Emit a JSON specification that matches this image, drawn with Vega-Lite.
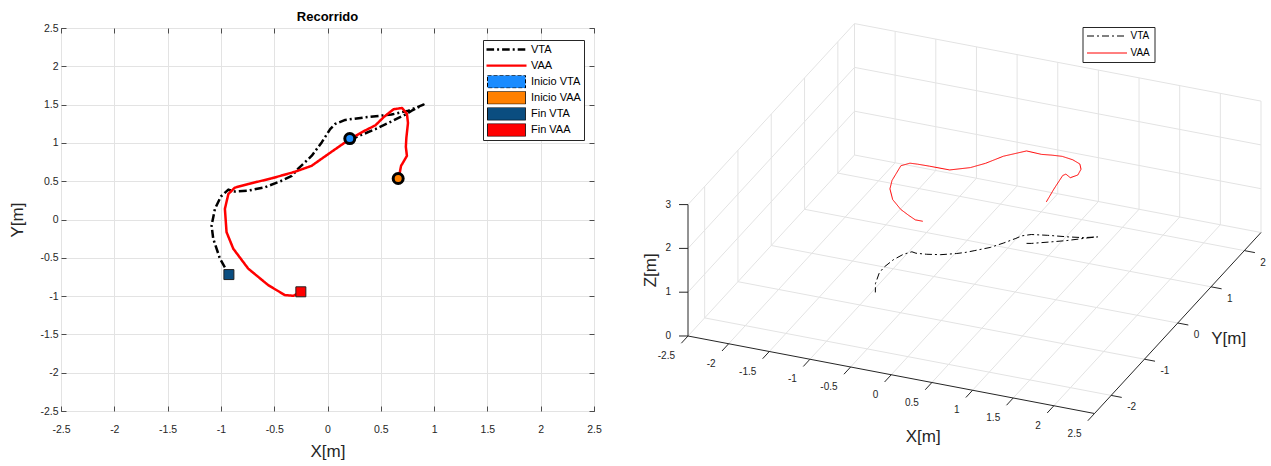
{
  "$schema": "https://vega.github.io/schema/vega-lite/v6.json",
  "autosize": {"type": "pad"},
  "padding": {"left": 8, "top": 10, "right": 0, "bottom": 0},
  "bounds": "flush",
  "spacing": 44,
  "background": "#ffffff",
  "config": {
    "font": "Liberation Sans",
    "text": {"font": "Liberation Sans"},
    "title": {"font": "Liberation Sans"},
    "axis": {"labelFont": "Liberation Sans", "titleFont": "Liberation Sans"},
    "legend": {"labelFont": "Liberation Sans"}
  },
  "resolve": {
    "scale": {"x": "independent", "y": "independent", "stroke": "independent", "strokeDash": "independent", "fill": "independent"},
    "legend": {"stroke": "independent", "strokeDash": "independent", "fill": "independent"}
  },
  "datasets": {
    "tray": [
      {"s": "VTA", "i": 0, "x": 0.21, "y": 1.05, "z": 0.14},
      {"s": "VTA", "i": 1, "x": 0.26, "y": 1.07, "z": 0.14},
      {"s": "VTA", "i": 2, "x": 0.45, "y": 1.18, "z": 0.15},
      {"s": "VTA", "i": 3, "x": 0.6, "y": 1.28, "z": 0.15},
      {"s": "VTA", "i": 4, "x": 0.73, "y": 1.37, "z": 0.16},
      {"s": "VTA", "i": 5, "x": 0.79, "y": 1.42, "z": 0.16},
      {"s": "VTA", "i": 6, "x": 0.9, "y": 1.5, "z": 0.16},
      {"s": "VTA", "i": 7, "x": 0.76, "y": 1.42, "z": 0.16},
      {"s": "VTA", "i": 8, "x": 0.6, "y": 1.37, "z": 0.16},
      {"s": "VTA", "i": 9, "x": 0.354, "y": 1.334, "z": 0.14},
      {"s": "VTA", "i": 10, "x": 0.166, "y": 1.3, "z": 0.12},
      {"s": "VTA", "i": 11, "x": 0.072, "y": 1.247, "z": 0.1},
      {"s": "VTA", "i": 12, "x": 0.025, "y": 1.18, "z": 0.08},
      {"s": "VTA", "i": 13, "x": -0.053, "y": 1.01, "z": 0.09},
      {"s": "VTA", "i": 14, "x": -0.147, "y": 0.833, "z": 0.1},
      {"s": "VTA", "i": 15, "x": -0.27, "y": 0.67, "z": 0.12},
      {"s": "VTA", "i": 16, "x": -0.335, "y": 0.57, "z": 0.14},
      {"s": "VTA", "i": 17, "x": -0.431, "y": 0.506, "z": 0.13},
      {"s": "VTA", "i": 18, "x": -0.5875, "y": 0.42, "z": 0.12},
      {"s": "VTA", "i": 19, "x": -0.744, "y": 0.377, "z": 0.11},
      {"s": "VTA", "i": 20, "x": -0.869, "y": 0.364, "z": 0.1},
      {"s": "VTA", "i": 21, "x": -0.93, "y": 0.39, "z": 0.09},
      {"s": "VTA", "i": 22, "x": -1.0, "y": 0.3, "z": 0.08},
      {"s": "VTA", "i": 23, "x": -1.056, "y": 0.139, "z": 0.07},
      {"s": "VTA", "i": 24, "x": -1.0875, "y": -0.078, "z": 0.06},
      {"s": "VTA", "i": 25, "x": -1.072, "y": -0.251, "z": 0.07},
      {"s": "VTA", "i": 26, "x": -1.009, "y": -0.511, "z": 0.08},
      {"s": "VTA", "i": 27, "x": -0.925, "y": -0.719, "z": 0.08},
      {"s": "VAA", "i": 0, "x": 0.667, "y": 0.53, "z": 1.68},
      {"s": "VAA", "i": 1, "x": 0.69, "y": 0.7, "z": 1.84},
      {"s": "VAA", "i": 2, "x": 0.745, "y": 0.83, "z": 2.06},
      {"s": "VAA", "i": 3, "x": 0.735, "y": 0.95, "z": 1.99},
      {"s": "VAA", "i": 4, "x": 0.74, "y": 1.07, "z": 1.81},
      {"s": "VAA", "i": 5, "x": 0.755, "y": 1.26, "z": 1.72},
      {"s": "VAA", "i": 6, "x": 0.745, "y": 1.38, "z": 1.75},
      {"s": "VAA", "i": 7, "x": 0.7, "y": 1.455, "z": 1.79},
      {"s": "VAA", "i": 8, "x": 0.62, "y": 1.44, "z": 1.87},
      {"s": "VAA", "i": 9, "x": 0.53, "y": 1.34, "z": 2.0},
      {"s": "VAA", "i": 10, "x": 0.45, "y": 1.23, "z": 2.09},
      {"s": "VAA", "i": 11, "x": 0.35, "y": 1.16, "z": 2.13},
      {"s": "VAA", "i": 12, "x": 0.21, "y": 1.05, "z": 2.25},
      {"s": "VAA", "i": 13, "x": 0.006, "y": 0.853, "z": 2.22},
      {"s": "VAA", "i": 14, "x": -0.15, "y": 0.7, "z": 2.13},
      {"s": "VAA", "i": 15, "x": -0.306, "y": 0.623, "z": 2.04},
      {"s": "VAA", "i": 16, "x": -0.525, "y": 0.537, "z": 1.98},
      {"s": "VAA", "i": 17, "x": -0.744, "y": 0.463, "z": 2.05},
      {"s": "VAA", "i": 18, "x": -0.869, "y": 0.416, "z": 2.09},
      {"s": "VAA", "i": 19, "x": -0.93, "y": 0.333, "z": 2.16},
      {"s": "VAA", "i": 20, "x": -0.9625, "y": 0.139, "z": 2.25},
      {"s": "VAA", "i": 21, "x": -0.947, "y": -0.165, "z": 2.17},
      {"s": "VAA", "i": 22, "x": -0.884, "y": -0.381, "z": 2.18},
      {"s": "VAA", "i": 23, "x": -0.744, "y": -0.641, "z": 2.2},
      {"s": "VAA", "i": 24, "x": -0.556, "y": -0.857, "z": 2.22},
      {"s": "VAA", "i": 25, "x": -0.4, "y": -0.987, "z": 2.24},
      {"s": "VAA", "i": 26, "x": -0.32, "y": -0.996, "z": 2.18},
      {"s": "VAA", "i": 27, "x": -0.25, "y": -0.944, "z": 2.13}
    ],
    "marcas": [
      {"m": "Inicio VTA", "t": "ini", "x": 0.209, "y": 1.056},
      {"m": "Inicio VAA", "t": "ini", "x": 0.663, "y": 0.535},
      {"m": "Fin VTA", "t": "fin", "x": -0.925, "y": -0.719},
      {"m": "Fin VAA", "t": "fin", "x": -0.25, "y": -0.944}
    ],
    "grid3d": [
      {"x": -2.5, "y": -2.5, "z": 0, "xe": -2.5, "ye": 2.5, "ze": 0},
      {"x": -2, "y": -2.5, "z": 0, "xe": -2, "ye": 2.5, "ze": 0},
      {"x": -1.5, "y": -2.5, "z": 0, "xe": -1.5, "ye": 2.5, "ze": 0},
      {"x": -1, "y": -2.5, "z": 0, "xe": -1, "ye": 2.5, "ze": 0},
      {"x": -0.5, "y": -2.5, "z": 0, "xe": -0.5, "ye": 2.5, "ze": 0},
      {"x": 0, "y": -2.5, "z": 0, "xe": 0, "ye": 2.5, "ze": 0},
      {"x": 0.5, "y": -2.5, "z": 0, "xe": 0.5, "ye": 2.5, "ze": 0},
      {"x": 1, "y": -2.5, "z": 0, "xe": 1, "ye": 2.5, "ze": 0},
      {"x": 1.5, "y": -2.5, "z": 0, "xe": 1.5, "ye": 2.5, "ze": 0},
      {"x": 2, "y": -2.5, "z": 0, "xe": 2, "ye": 2.5, "ze": 0},
      {"x": -2.5, "y": -2, "z": 0, "xe": 2.5, "ye": -2, "ze": 0},
      {"x": -2.5, "y": -1, "z": 0, "xe": 2.5, "ye": -1, "ze": 0},
      {"x": -2.5, "y": 0, "z": 0, "xe": 2.5, "ye": 0, "ze": 0},
      {"x": -2.5, "y": 1, "z": 0, "xe": 2.5, "ye": 1, "ze": 0},
      {"x": -2.5, "y": 2, "z": 0, "xe": 2.5, "ye": 2, "ze": 0},
      {"x": -2.5, "y": 2.5, "z": 0, "xe": 2.5, "ye": 2.5, "ze": 0},
      {"x": -2.5, "y": -2, "z": 0, "xe": -2.5, "ye": -2, "ze": 3},
      {"x": -2.5, "y": -1, "z": 0, "xe": -2.5, "ye": -1, "ze": 3},
      {"x": -2.5, "y": 0, "z": 0, "xe": -2.5, "ye": 0, "ze": 3},
      {"x": -2.5, "y": 1, "z": 0, "xe": -2.5, "ye": 1, "ze": 3},
      {"x": -2.5, "y": 2, "z": 0, "xe": -2.5, "ye": 2, "ze": 3},
      {"x": -2.5, "y": 2.5, "z": 0, "xe": -2.5, "ye": 2.5, "ze": 3},
      {"x": -2.5, "y": -2.5, "z": 1, "xe": -2.5, "ye": 2.5, "ze": 1},
      {"x": -2.5, "y": -2.5, "z": 2, "xe": -2.5, "ye": 2.5, "ze": 2},
      {"x": -2.5, "y": -2.5, "z": 3, "xe": -2.5, "ye": 2.5, "ze": 3},
      {"x": -2, "y": 2.5, "z": 0, "xe": -2, "ye": 2.5, "ze": 3},
      {"x": -1.5, "y": 2.5, "z": 0, "xe": -1.5, "ye": 2.5, "ze": 3},
      {"x": -1, "y": 2.5, "z": 0, "xe": -1, "ye": 2.5, "ze": 3},
      {"x": -0.5, "y": 2.5, "z": 0, "xe": -0.5, "ye": 2.5, "ze": 3},
      {"x": 0, "y": 2.5, "z": 0, "xe": 0, "ye": 2.5, "ze": 3},
      {"x": 0.5, "y": 2.5, "z": 0, "xe": 0.5, "ye": 2.5, "ze": 3},
      {"x": 1, "y": 2.5, "z": 0, "xe": 1, "ye": 2.5, "ze": 3},
      {"x": 1.5, "y": 2.5, "z": 0, "xe": 1.5, "ye": 2.5, "ze": 3},
      {"x": 2, "y": 2.5, "z": 0, "xe": 2, "ye": 2.5, "ze": 3},
      {"x": 2.5, "y": 2.5, "z": 0, "xe": 2.5, "ye": 2.5, "ze": 3},
      {"x": -2.5, "y": 2.5, "z": 1, "xe": 2.5, "ye": 2.5, "ze": 1},
      {"x": -2.5, "y": 2.5, "z": 2, "xe": 2.5, "ye": 2.5, "ze": 2},
      {"x": -2.5, "y": 2.5, "z": 3, "xe": 2.5, "ye": 2.5, "ze": 3}
    ],
    "ejes3d": [
      {"x": -2.5, "y": -2.5, "z": 0, "xe": 2.5, "ye": -2.5, "ze": 0},
      {"x": 2.5, "y": -2.5, "z": 0, "xe": 2.5, "ye": 2.5, "ze": 0},
      {"x": -2.5, "y": -2.5, "z": 0, "xe": -2.5, "ye": -2.5, "ze": 3},
      {"x": -2.5, "y": -2.5, "z": 0, "xe": -2.5, "ye": -2.7, "ze": 0},
      {"x": -2, "y": -2.5, "z": 0, "xe": -2, "ye": -2.7, "ze": 0},
      {"x": -1.5, "y": -2.5, "z": 0, "xe": -1.5, "ye": -2.7, "ze": 0},
      {"x": -1, "y": -2.5, "z": 0, "xe": -1, "ye": -2.7, "ze": 0},
      {"x": -0.5, "y": -2.5, "z": 0, "xe": -0.5, "ye": -2.7, "ze": 0},
      {"x": 0, "y": -2.5, "z": 0, "xe": 0, "ye": -2.7, "ze": 0},
      {"x": 0.5, "y": -2.5, "z": 0, "xe": 0.5, "ye": -2.7, "ze": 0},
      {"x": 1, "y": -2.5, "z": 0, "xe": 1, "ye": -2.7, "ze": 0},
      {"x": 1.5, "y": -2.5, "z": 0, "xe": 1.5, "ye": -2.7, "ze": 0},
      {"x": 2, "y": -2.5, "z": 0, "xe": 2, "ye": -2.7, "ze": 0},
      {"x": 2.5, "y": -2.5, "z": 0, "xe": 2.5, "ye": -2.7, "ze": 0},
      {"x": 2.5, "y": -2, "z": 0, "xe": 2.63, "ye": -2, "ze": 0},
      {"x": 2.5, "y": -1, "z": 0, "xe": 2.63, "ye": -1, "ze": 0},
      {"x": 2.5, "y": 0, "z": 0, "xe": 2.63, "ye": 0, "ze": 0},
      {"x": 2.5, "y": 1, "z": 0, "xe": 2.63, "ye": 1, "ze": 0},
      {"x": 2.5, "y": 2, "z": 0, "xe": 2.63, "ye": 2, "ze": 0},
      {"x": -2.5, "y": -2.5, "z": 0, "xe": -2.594, "ye": -2.54, "ze": 0},
      {"x": -2.5, "y": -2.5, "z": 1, "xe": -2.594, "ye": -2.54, "ze": 1},
      {"x": -2.5, "y": -2.5, "z": 2, "xe": -2.594, "ye": -2.54, "ze": 2},
      {"x": -2.5, "y": -2.5, "z": 3, "xe": -2.594, "ye": -2.54, "ze": 3}
    ],
    "etiq3d": [
      {"e": "x", "x": -2.5, "y": -2.5, "z": 0, "t": "-2.5"},
      {"e": "x", "x": -2, "y": -2.5, "z": 0, "t": "-2"},
      {"e": "x", "x": -1.5, "y": -2.5, "z": 0, "t": "-1.5"},
      {"e": "x", "x": -1, "y": -2.5, "z": 0, "t": "-1"},
      {"e": "x", "x": -0.5, "y": -2.5, "z": 0, "t": "-0.5"},
      {"e": "x", "x": 0, "y": -2.5, "z": 0, "t": "0"},
      {"e": "x", "x": 0.5, "y": -2.5, "z": 0, "t": "0.5"},
      {"e": "x", "x": 1, "y": -2.5, "z": 0, "t": "1"},
      {"e": "x", "x": 1.5, "y": -2.5, "z": 0, "t": "1.5"},
      {"e": "x", "x": 2, "y": -2.5, "z": 0, "t": "2"},
      {"e": "x", "x": 2.5, "y": -2.5, "z": 0, "t": "2.5"},
      {"e": "y", "x": 2.5, "y": -2, "z": 0, "t": "-2"},
      {"e": "y", "x": 2.5, "y": -1, "z": 0, "t": "-1"},
      {"e": "y", "x": 2.5, "y": 0, "z": 0, "t": "0"},
      {"e": "y", "x": 2.5, "y": 1, "z": 0, "t": "1"},
      {"e": "y", "x": 2.5, "y": 2, "z": 0, "t": "2"},
      {"e": "z", "x": -2.5, "y": -2.5, "z": 0, "t": "0"},
      {"e": "z", "x": -2.5, "y": -2.5, "z": 1, "t": "1"},
      {"e": "z", "x": -2.5, "y": -2.5, "z": 2, "t": "2"},
      {"e": "z", "x": -2.5, "y": -2.5, "z": 3, "t": "3"},
      {"e": "tx", "x": 0, "y": -2.5, "z": 0, "t": "X[m]"},
      {"e": "ty", "x": 2.5, "y": 0, "z": 0, "t": "Y[m]"},
      {"e": "tz", "x": -2.5, "y": -2.5, "z": 1.5, "t": "Z[m]"}
    ]
  },
  "hconcat": [
    {
      "width": 533,
      "height": 383,
      "title": {"text": "Recorrido", "fontSize": 13, "fontWeight": "bold", "color": "#000000", "offset": -1, "anchor": "middle"},
      "view": {"stroke": "#262626", "strokeWidth": 1},
      "layer": [
        {
          "data": {"name": "tray"},
          "mark": {"type": "line", "strokeWidth": 2.5, "strokeJoin": "round"},
          "encoding": {
            "x": {"field": "x", "type": "quantitative", "scale": {"domain": [-2.5, 2.5], "nice": false, "zero": false},
              "axis": {"orient": "bottom", "values": [-2.5, -2, -1.5, -1, -0.5, 0, 0.5, 1, 1.5, 2, 2.5], "labelExpr": "'' + datum.value",
                "title": "X[m]", "titleFontSize": 17, "titleFontWeight": "normal", "titleColor": "#262626", "titlePadding": 9,
                "labelFontSize": 10.5, "labelColor": "#262626", "labelPadding": 18, "labelFlush": false, "labelOverlap": false,
                "tickSize": -5, "tickColor": "#262626", "tickWidth": 0.8, "domain": false,
                "grid": true, "gridColor": "#e3e3e3", "gridWidth": 1}},
            "y": {"field": "y", "type": "quantitative", "scale": {"domain": [-2.5, 2.5], "nice": false, "zero": false},
              "axis": {"orient": "left", "values": [-2.5, -2, -1.5, -1, -0.5, 0, 0.5, 1, 1.5, 2, 2.5], "labelExpr": "'' + datum.value",
                "title": "Y[m]", "titleFontSize": 17, "titleFontWeight": "normal", "titleColor": "#262626", "titlePadding": 13,
                "labelFontSize": 10.5, "labelColor": "#262626", "labelPadding": 8, "labelFlush": false, "labelOverlap": false,
                "tickSize": -5, "tickColor": "#262626", "tickWidth": 0.8, "domain": false,
                "grid": true, "gridColor": "#e3e3e3", "gridWidth": 1}},
            "order": {"field": "i", "type": "quantitative"},
            "stroke": {"field": "s", "type": "nominal", "scale": {"domain": ["VTA", "VAA"], "range": ["#000000", "#ff0000"]}, "legend": null},
            "strokeDash": {"field": "s", "type": "nominal", "scale": {"domain": ["VTA", "VAA"], "range": [[8, 3, 2, 3], [1, 0]]}, "legend": null}
          }
        },
        {
          "data": {"name": "marcas"},
          "transform": [{"filter": "datum.t == 'ini'"}],
          "mark": {"type": "point", "shape": "circle", "filled": true, "opacity": 1, "stroke": "#000000", "strokeWidth": 3, "size": 100},
          "encoding": {
            "x": {"field": "x", "type": "quantitative", "scale": {"domain": [-2.5, 2.5], "nice": false, "zero": false}, "axis": null},
            "y": {"field": "y", "type": "quantitative", "scale": {"domain": [-2.5, 2.5], "nice": false, "zero": false}, "axis": null},
            "fill": {"field": "m", "type": "nominal",
              "scale": {"domain": ["VTA", "VAA", "Inicio VTA", "Inicio VAA", "Fin VTA", "Fin VAA"], "range": ["#000000", "#ff0000", "#1a8cff", "#ff8000", "#0a4d80", "#ff0000"]},
              "legend": {
                "orient": "none", "legendX": 422, "legendY": 12, "title": null,
                "symbolType": {"expr": "datum.value == 'VTA' ? 'M-1,-0.065H-0.62V0.065H-1Z M-0.47,-0.065H-0.37V0.065H-0.47Z M-0.22,-0.065H0.16V0.065H-0.22Z M0.31,-0.065H0.41V0.065H0.31Z M0.56,-0.065H0.94V0.065H0.56Z' : (datum.value == 'VAA' ? 'M-1,-0.06H1V0.06H-1Z' : 'M-0.95,-0.32H0.95V0.32H-0.95Z')"},
                "symbolStrokeColor": {"expr": "(datum.value == 'VTA' || datum.value == 'VAA') ? 'transparent' : '#000000'"},
                "symbolStrokeWidth": 1,
                "symbolDash": {"expr": "datum.value == 'Inicio VTA' ? [4, 2] : [1, 0]"},
                "symbolSize": 1600, "symbolOpacity": 1, "clipHeight": 13, "rowPadding": 3.1, "padding": 3, "labelOffset": 4,
                "labelFontSize": 11, "labelColor": "#000000", "strokeColor": "#262626", "fillColor": "#ffffff",
                "labelExpr": "datum.label + '\u00a0\u00a0\u00a0\u00a0'"
              }}
          }
        },
        {
          "data": {"name": "marcas"},
          "transform": [{"filter": "datum.t == 'fin'"}],
          "mark": {"type": "point", "shape": "square", "filled": true, "opacity": 1, "stroke": "#222222", "strokeWidth": 1, "size": 100},
          "encoding": {
            "x": {"field": "x", "type": "quantitative", "scale": {"domain": [-2.5, 2.5], "nice": false, "zero": false}, "axis": null},
            "y": {"field": "y", "type": "quantitative", "scale": {"domain": [-2.5, 2.5], "nice": false, "zero": false}, "axis": null},
            "fill": {"field": "m", "type": "nominal",
              "legend": {
                "orient": "none", "legendX": 422, "legendY": 12, "title": null,
                "symbolType": {"expr": "datum.value == 'VTA' ? 'M-1,-0.065H-0.62V0.065H-1Z M-0.47,-0.065H-0.37V0.065H-0.47Z M-0.22,-0.065H0.16V0.065H-0.22Z M0.31,-0.065H0.41V0.065H0.31Z M0.56,-0.065H0.94V0.065H0.56Z' : (datum.value == 'VAA' ? 'M-1,-0.06H1V0.06H-1Z' : 'M-0.95,-0.32H0.95V0.32H-0.95Z')"},
                "symbolStrokeColor": {"expr": "(datum.value == 'VTA' || datum.value == 'VAA') ? 'transparent' : '#000000'"},
                "symbolStrokeWidth": 1,
                "symbolDash": {"expr": "datum.value == 'Inicio VTA' ? [4, 2] : [1, 0]"},
                "symbolSize": 1600, "symbolOpacity": 1, "clipHeight": 13, "rowPadding": 3.1, "padding": 3, "labelOffset": 4,
                "labelFontSize": 11, "labelColor": "#000000", "strokeColor": "#262626", "fillColor": "#ffffff",
                "labelExpr": "datum.label + '\u00a0\u00a0\u00a0\u00a0'"
              }}
          }
        },
        {
          "data": {"name": "marcas"},
          "mark": {"type": "point", "opacity": 0},
          "encoding": {
            "x": {"field": "x", "type": "quantitative", "scale": {"domain": [-2.5, 2.5], "nice": false, "zero": false},
              "axis": {"orient": "top", "values": [-2.5, -2, -1.5, -1, -0.5, 0, 0.5, 1, 1.5, 2, 2.5], "labels": false, "title": null,
                "tickSize": -5, "tickColor": "#262626", "tickWidth": 0.8, "domain": false, "grid": false}},
            "y": {"field": "y", "type": "quantitative", "scale": {"domain": [-2.5, 2.5], "nice": false, "zero": false},
              "axis": {"orient": "right", "values": [-2.5, -2, -1.5, -1, -0.5, 0, 0.5, 1, 1.5, 2, 2.5], "labels": false, "title": null,
                "tickSize": -5, "tickColor": "#262626", "tickWidth": 0.8, "domain": false, "grid": false}}
          }
        }
      ]
    },
    {
      "width": 630,
      "height": 383,
      "view": {"stroke": null},
      "encoding": {
        "x": {"field": "u", "type": "quantitative", "scale": {"domain": [-3.365, 2.935], "nice": false, "zero": false}, "axis": null},
        "y": {"field": "v", "type": "quantitative", "scale": {"domain": [-1.2675, 2.5625], "nice": false, "zero": false}, "axis": null}
      },
      "layer": [
        {
          "data": {"name": "grid3d"},
          "transform": [
            {"calculate": "0.813*datum.x + 0.333*datum.y", "as": "u"},
            {"calculate": "-0.155*datum.x + 0.362*datum.y + 0.438*datum.z", "as": "v"},
            {"calculate": "0.813*datum.xe + 0.333*datum.ye", "as": "u2"},
            {"calculate": "-0.155*datum.xe + 0.362*datum.ye + 0.438*datum.ze", "as": "v2"}
          ],
          "mark": {"type": "rule", "stroke": "#e3e3e3", "strokeWidth": 1},
          "encoding": {"x2": {"field": "u2"}, "y2": {"field": "v2"}}
        },
        {
          "data": {"name": "ejes3d"},
          "transform": [
            {"calculate": "0.813*datum.x + 0.333*datum.y", "as": "u"},
            {"calculate": "-0.155*datum.x + 0.362*datum.y + 0.438*datum.z", "as": "v"},
            {"calculate": "0.813*datum.xe + 0.333*datum.ye", "as": "u2"},
            {"calculate": "-0.155*datum.xe + 0.362*datum.ye + 0.438*datum.ze", "as": "v2"}
          ],
          "mark": {"type": "rule", "stroke": "#262626", "strokeWidth": 1},
          "encoding": {"x2": {"field": "u2"}, "y2": {"field": "v2"}}
        },
        {
          "data": {"name": "tray"},
          "transform": [
            {"calculate": "0.813*datum.x + 0.333*datum.y", "as": "u"},
            {"calculate": "-0.155*datum.x + 0.362*datum.y + 0.438*datum.z", "as": "v"}
          ],
          "mark": {"type": "line", "strokeWidth": 1},
          "encoding": {
            "order": {"field": "i", "type": "quantitative"},
            "stroke": {"field": "s", "type": "nominal", "scale": {"domain": ["VTA", "VAA"], "range": ["#000000", "#ff0000"]},
              "legend": {"orient": "none", "legendX": 444.5, "legendY": -1, "title": null, "symbolType": "stroke", "symbolSize": 1600,
                "symbolStrokeWidth": 1, "clipHeight": 10, "rowPadding": 7, "padding": 4, "labelOffset": 3, "labelFontSize": 10,
                "labelColor": "#000000", "strokeColor": "#262626", "fillColor": "#ffffff",
                "labelExpr": "datum.label + '\u00a0\u00a0\u00a0\u00a0\u00a0\u00a0\u00a0\u00a0'"}},
            "strokeDash": {"field": "s", "type": "nominal", "scale": {"domain": ["VTA", "VAA"], "range": [[7, 3, 2, 3], [1, 0]]},
              "legend": {"orient": "none", "legendX": 444.5, "legendY": -1, "title": null, "symbolType": "stroke", "symbolSize": 1600,
                "symbolStrokeWidth": 1, "clipHeight": 10, "rowPadding": 7, "padding": 4, "labelOffset": 3, "labelFontSize": 10,
                "labelColor": "#000000", "strokeColor": "#262626", "fillColor": "#ffffff",
                "labelExpr": "datum.label + '\u00a0\u00a0\u00a0\u00a0\u00a0\u00a0\u00a0\u00a0'"}}
          }
        },
        {
          "data": {"name": "etiq3d"},
          "transform": [
            {"filter": "datum.e == 'x'"},
            {"calculate": "0.813*datum.x + 0.333*datum.y", "as": "u"},
            {"calculate": "-0.155*datum.x + 0.362*datum.y + 0.438*datum.z", "as": "v"}
          ],
          "mark": {"type": "text", "align": "right", "baseline": "middle", "dx": -13, "dy": 20, "fontSize": 10, "color": "#262626"},
          "encoding": {"text": {"field": "t"}}
        },
        {
          "data": {"name": "etiq3d"},
          "transform": [
            {"filter": "datum.e == 'y'"},
            {"calculate": "0.813*datum.x + 0.333*datum.y", "as": "u"},
            {"calculate": "-0.155*datum.x + 0.362*datum.y + 0.438*datum.z", "as": "v"}
          ],
          "mark": {"type": "text", "align": "left", "baseline": "middle", "dx": 16, "dy": 12, "fontSize": 10, "color": "#262626"},
          "encoding": {"text": {"field": "t"}}
        },
        {
          "data": {"name": "etiq3d"},
          "transform": [
            {"filter": "datum.e == 'z'"},
            {"calculate": "0.813*datum.x + 0.333*datum.y", "as": "u"},
            {"calculate": "-0.155*datum.x + 0.362*datum.y + 0.438*datum.z", "as": "v"}
          ],
          "mark": {"type": "text", "align": "right", "baseline": "middle", "dx": -17, "dy": 0, "fontSize": 10, "color": "#262626"},
          "encoding": {"text": {"field": "t"}}
        },
        {
          "data": {"name": "etiq3d"},
          "transform": [
            {"filter": "datum.e == 'tx'"},
            {"calculate": "0.813*datum.x + 0.333*datum.y", "as": "u"},
            {"calculate": "-0.155*datum.x + 0.362*datum.y + 0.438*datum.z", "as": "v"}
          ],
          "mark": {"type": "text", "align": "center", "baseline": "middle", "dx": 32, "dy": 62, "fontSize": 17, "color": "#262626"},
          "encoding": {"text": {"field": "t"}}
        },
        {
          "data": {"name": "etiq3d"},
          "transform": [
            {"filter": "datum.e == 'ty'"},
            {"calculate": "0.813*datum.x + 0.333*datum.y", "as": "u"},
            {"calculate": "-0.155*datum.x + 0.362*datum.y + 0.438*datum.z", "as": "v"}
          ],
          "mark": {"type": "text", "align": "center", "baseline": "middle", "dx": 51, "dy": 16, "fontSize": 17, "color": "#262626"},
          "encoding": {"text": {"field": "t"}}
        },
        {
          "data": {"name": "etiq3d"},
          "transform": [
            {"filter": "datum.e == 'tz'"},
            {"calculate": "0.813*datum.x + 0.333*datum.y", "as": "u"},
            {"calculate": "-0.155*datum.x + 0.362*datum.y + 0.438*datum.z", "as": "v"}
          ],
          "mark": {"type": "text", "align": "center", "baseline": "middle", "angle": 270, "dx": 0, "dy": -37, "fontSize": 17, "color": "#262626"},
          "encoding": {"text": {"field": "t"}}
        }
      ]
    }
  ]
}
